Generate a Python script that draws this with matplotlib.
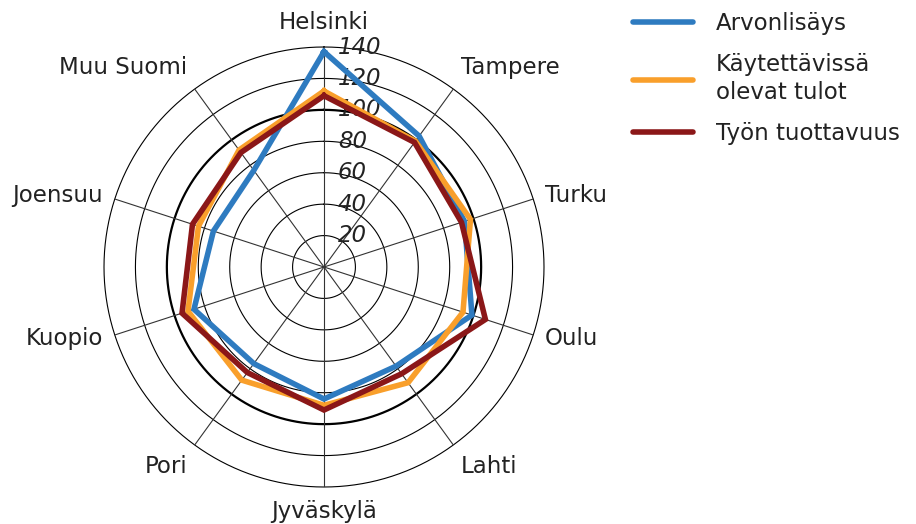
import numpy as np
import matplotlib
matplotlib.use("Agg")
import matplotlib.pyplot as plt
from matplotlib.lines import Line2D
from matplotlib.transforms import offset_copy

cities = ["Helsinki", "Tampere", "Turku", "Oulu", "Lahti", "Jyväskylä",
          "Pori", "Kuopio", "Joensuu", "Muu Suomi"]
arvonlisays = [137, 103, 94, 99, 78, 84, 76, 87, 74, 76]
kaytettavissa = [112, 99, 98, 93, 91, 88, 89, 91, 84, 92]
tyon_tuottavuus = [109, 98, 92, 108, 84, 91, 83, 95, 88, 90]
rings = [20, 40, 60, 80, 100, 120, 140]

series = [
    ("Arvonlisäys", arvonlisays, "#2e7bc0"),
    ("Käytettävissä\nolevat tulot", kaytettavissa, "#f99f2b"),
    ("Työn tuottavuus", tyon_tuottavuus, "#8b1718"),
]

W, H = 916, 524
fig = plt.figure(figsize=(W / 100, H / 100), dpi=100)
ax = fig.add_axes([104 / W, (H - 487) / H, 440 / W, 440 / H],
                  projection="polar")
ax.set_theta_zero_location("N")
ax.set_theta_direction(-1)
ax.set_ylim(0, 140)
ax.grid(False)
ax.set_xticks([])
ax.set_yticks([])
ax.spines["polar"].set_visible(False)

theta = np.linspace(0, 2 * np.pi, len(cities), endpoint=False)
full = np.linspace(0, 2 * np.pi, 361)
txt = "#222222"
fs = 16.5

# rings and spokes
for r in rings:
    ax.plot(full, [r] * len(full), color="black",
            lw=1.6 if r == 100 else 0.8, zorder=1, clip_on=False)
for t in theta:
    ax.plot([t, t], [0, 140], color="#333333", lw=0.8, zorder=1)

# radial labels along the top spoke
tr = offset_copy(ax.transData, fig=fig, x=14, y=0, units="dots")
for r in rings:
    ax.text(0, r, str(r), transform=tr, ha="left", va="center",
            fontsize=fs, style="italic", color=txt, zorder=2)

# series
closed = np.append(theta, theta[0])
for label, vals, color in series:
    ax.plot(closed, vals + vals[:1], color=color, lw=4,
            solid_joinstyle="miter", zorder=3)

# category labels
for t, name in zip(theta, cities):
    s, c = np.sin(t), np.cos(t)
    ha = "left" if s > 0.01 else ("right" if s < -0.01 else "center")
    va = "bottom" if c > 0.5 else ("top" if c < -0.5 else "center")
    ax.text(t, 148, name, ha=ha, va=va, fontsize=fs, color=txt)

handles = [Line2D([], [], color=c, lw=4, solid_capstyle="round")
           for _, _, c in series]
leg = fig.legend(handles, [l for l, _, _ in series], loc="upper left",
                 bbox_to_anchor=(633 / W, 1 - 12 / H), frameon=False,
                 fontsize=fs, handlelength=2.6, handletextpad=1.0,
                 labelspacing=0.8, borderpad=0, borderaxespad=0,
                 labelcolor=txt)
for t in leg.get_texts():
    t.set_linespacing(1.25)

fig.savefig("out.png", dpi=100)
